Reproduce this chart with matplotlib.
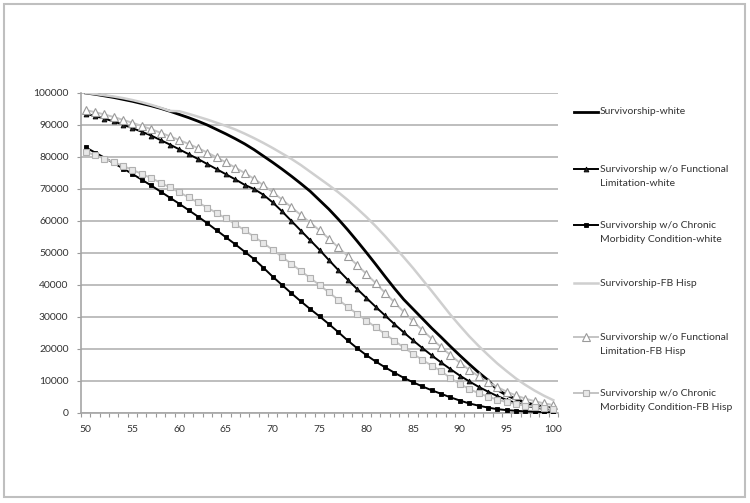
import matplotlib
matplotlib.use("Agg")
import matplotlib.pyplot as plt
from matplotlib.lines import Line2D
from matplotlib.patches import Rectangle
from matplotlib.ticker import FixedLocator, FuncFormatter

plt.rcParams['font.family'] = ['Lato', 'DejaVu Sans']

# ages 50..100
ages = list(range(50, 101))

surv_white = [100000, 99600, 99100, 98600, 98000, 97400, 96700, 96000, 95200, 94300,
              93300, 92300, 91200, 90000, 88600, 87200, 85700, 84100, 82300, 80300,
              78300, 76200, 74000, 71700, 69300, 66500, 63700, 60600, 57300, 53800,
              50200, 46500, 42700, 39000, 35500, 32500, 29500, 26500, 23700, 20800,
              18000, 15300, 12700, 10300, 7300, 5600, 4300, 3300, 2500, 1900, 1400]

nofl_white = [93500, 92800, 92000, 91100, 90100, 89000, 87900, 86700, 85300, 83900,
              82400, 80900, 79400, 77800, 76200, 74600, 73000, 71300, 70000, 68200,
              65800, 63000, 60000, 57000, 54000, 51000, 47800, 44700, 41700, 38800,
              36000, 33200, 30500, 27800, 25200, 22700, 20300, 18000, 15800, 13700,
              11700, 9900, 8200, 6700, 5300, 4100, 3100, 2300, 1700, 1300, 1000]

nocm_white = [83000, 81400, 79800, 78100, 76400, 74700, 72900, 71100, 69200, 67300,
              65400, 63400, 61400, 59300, 57100, 54900, 52700, 50400, 48100, 45400,
              42600, 40000, 37400, 34900, 32500, 30200, 27800, 25300, 22700, 20300,
              18100, 16100, 14300, 12600, 11000, 9600, 8300, 7100, 6000, 4900,
              3900, 3000, 2300, 1700, 1200, 900, 700, 500, 400, 300, 200]

surv_fb = [100000, 99700, 99300, 98900, 98400, 97800, 97100, 96300, 95400, 94400,
           94300, 93500, 92600, 91700, 90700, 89700, 88600, 87300, 85900, 84400,
           82800, 81100, 79400, 77500, 75400, 73300, 71200, 69000, 66600, 64000,
           61300, 58400, 55300, 52000, 48700, 45300, 41700, 38100, 34400, 30700,
           27300, 24000, 21000, 18200, 15500, 13100, 10800, 8800, 7000, 5400, 4000]

nofl_fb = [94700, 94000, 93300, 92500, 91600, 90700, 89700, 88700, 87600, 86500,
           85300, 84100, 82800, 81400, 79900, 78300, 76700, 75000, 73200, 71200,
           69000, 66700, 64300, 61900, 59500, 57100, 54500, 51800, 49100, 46300,
           43500, 40600, 37600, 34600, 31600, 28700, 25900, 23200, 20600, 18100,
           15700, 13500, 11500, 9700, 8100, 6700, 5500, 4500, 3700, 3000, 2500]

nocm_fb = [81600, 80600, 79500, 78400, 77200, 76000, 74700, 73400, 72000, 70500,
           69000, 67400, 65800, 64200, 62500, 60800, 59000, 57100, 55100, 53100,
           51000, 48800, 46600, 44400, 42200, 40000, 37700, 35400, 33200, 31000,
           28900, 26800, 24700, 22600, 20500, 18500, 16600, 14800, 13100, 10900,
           9100, 7500, 6200, 5100, 4200, 3400, 2800, 2300, 1900, 1500, 1200]

labels = ['Survivorship-white',
          'Survivorship w/o Functional\nLimitation-white',
          'Survivorship w/o Chronic\nMorbidity Condition-white',
          'Survivorship-FB Hisp',
          'Survivorship w/o Functional\nLimitation-FB Hisp',
          'Survivorship w/o Chronic\nMorbidity Condition-FB Hisp']

series = [surv_white, nofl_white, nocm_white, surv_fb, nofl_fb, nocm_fb]

# line styles per series
styles = [
    dict(color='black', lw=2.0),
    dict(color='black', lw=1.4, marker='^', ms=3.5, mfc='#222222', mec='black', mew=0.6),
    dict(color='black', lw=1.4, marker='s', ms=2.8, mfc='black', mec='black', mew=0.6),
    dict(color='#cfcfcf', lw=1.8),
    dict(color='#c4c4c4', lw=1.4, marker='^', ms=5.5, mfc='white', mec='#9a9a9a', mew=0.8),
    dict(color='#c4c4c4', lw=1.4, marker='s', ms=4.2, mfc='#e8e8e8', mec='#b0b0b0', mew=0.8),
]

W, H = 750, 503
fig = plt.figure(figsize=(7.5, 5.03), dpi=100)
ax = fig.add_axes([81 / W, 1 - 413 / H, (558 - 81) / W, (413 - 93) / H])

for vals, st in zip(series, styles):
    ax.plot(ages, vals, **st, zorder=3)

ax.set_xlim(49.5, 100.5)
ax.set_ylim(0, 100000)
ax.yaxis.set_major_locator(FixedLocator(range(0, 100001, 10000)))
ax.yaxis.set_major_formatter(FuncFormatter(lambda v, p: '%d' % v))
ax.xaxis.set_major_locator(FixedLocator(range(50, 101, 5)))
ax.xaxis.set_minor_locator(FixedLocator([a + 0.5 for a in range(49, 101)]))
ax.tick_params(axis='x', which='major', length=0, pad=9, labelsize=7.5, colors='#333333')
ax.tick_params(axis='x', which='minor', length=3, width=0.8, color='#999999')
ax.tick_params(axis='y', length=3, width=0.8, color='#999999', pad=6, labelsize=7.5,
               labelcolor='#333333')
ax.grid(axis='y', color='#b3b3b3', lw=1.2, zorder=1)
for s in ['top', 'right']:
    ax.spines[s].set_visible(False)
for s in ['left', 'bottom']:
    ax.spines[s].set_color('#a6a6a6')
    ax.spines[s].set_linewidth(1.2)

# legend, laid out like the original (handles aligned with first text line)
leg_y = [112, 169, 225, 283, 337, 393]
for lab, st, y in zip(labels, styles, leg_y):
    yf = 1 - y / H
    kw = {k: v for k, v in st.items() if k != 'lw'}
    kw['lw'] = st['lw']
    fig.add_artist(Line2D([574 / W, 598 / W], [yf, yf], transform=fig.transFigure, **kw,
                          markevery=[]))
    if 'marker' in st:
        fig.add_artist(Line2D([586 / W], [yf], transform=fig.transFigure, ls='none',
                              marker=st['marker'], ms=st['ms'], mfc=st['mfc'],
                              mec=st['mec'], mew=st['mew']))
    fig.text(600 / W, yf, lab.split('\n')[0], va='center', ha='left', fontsize=7.5,
             color='#333333')
    if '\n' in lab:
        fig.text(600 / W, 1 - (y + 14) / H, lab.split('\n')[1], va='center', ha='left',
                 fontsize=7.5, color='#333333')

# chart area border
fig.add_artist(Rectangle((4 / W, 1 - 497 / H), (745 - 4) / W, (497 - 4) / H,
                         transform=fig.transFigure, fill=False, ec='#bfbfbf', lw=1.5))

fig.savefig('out.png', dpi=100)
